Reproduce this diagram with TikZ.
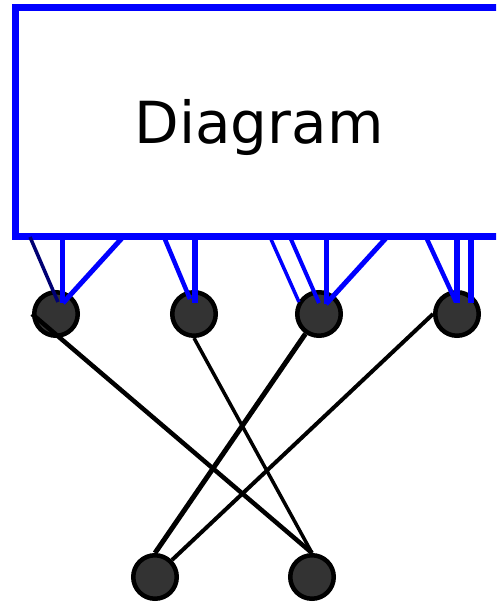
\documentclass[tikz,border=0pt]{standalone}
\usepackage{fontspec}
\setmainfont{DejaVu Sans}
\usetikzlibrary{calc}

\tikzset{
  diagbox/.style={draw=blue, line width=6.5pt, inner sep=0pt,
    font=\fontsize{58}{60}\selectfont, text height=42pt, text depth=0pt},
  dot/.style={circle, draw=black, fill=black!80, line width=4.5pt,
    minimum size=43.5pt, inner sep=0pt},
  bluewire/.style={draw=blue},
  blackwire/.style={draw=black}
}

\begin{document}
\begin{tikzpicture}[x=1pt, y=-1pt]
    \useasboundingbox (0,0) rectangle (496,603);
    \clip (0,0) rectangle (496,603);

    % 方框
    \node[diagbox, minimum width=487pt, minimum height=229pt] (diag) at (259,122) {Diagram};

    % 圆点
    \node[dot] (n1) at (56,314) {};
    \node[dot] (n2) at (194,314) {};
    \node[dot] (n3) at (319,314) {};
    \node[dot] (n4) at (457,314) {};
    \node[dot] (bl) at (155,577) {};
    \node[dot] (br) at (312,577) {};

    % 方框下边的端口
    \coordinate (p1) at (30,237);
    \coordinate (p2) at (62.5,237);
    \coordinate (p3) at (123,237);
    \coordinate (p4) at (164,237);
    \coordinate (p5) at (194.5,237);
    \coordinate (p6) at (270,237);
    \coordinate (p7) at (290,237);
    \coordinate (p8) at (326,237);
    \coordinate (p9) at (387,237);
    \coordinate (p10) at (426,237);
    \coordinate (p11) at (457,237);
    \coordinate (p12) at (471,237);

    % 黑线
    \draw[blackwire, line width=4.5pt] (n1.west) -- (br.north);
    \draw[blackwire, line width=3.5pt] (n2.south) -- (br.north);
    \draw[blackwire, line width=5pt] (n3) -- (bl.north);
    \draw[blackwire, line width=4pt] (n4.west) -- (bl.north east);

    % 蓝线
    \draw[bluewire, line width=3.5pt, draw=blue!45!black] (p1) -- ($(n1)+(2,-12)$);
    \draw[bluewire, line width=5.5pt] (p2) -- ($(n1)+(6.5,-11)$);
    \draw[bluewire, line width=5pt] (p3) -- ($(n1)+(7,-11)$);
    \draw[bluewire, line width=4.5pt] (p4) -- ($(n2)+(-4,-15)$);
    \draw[bluewire, line width=6pt] (p5) -- ($(n2)+(0.5,-11)$);
    \draw[bluewire, line width=3.5pt] (p6) -- ($(n3)+(-20,-12)$);
    \draw[bluewire, line width=4pt] (p7) -- ($(n3)+(0,-11)$);
    \draw[bluewire, line width=5pt] (p8) -- ($(n3)+(7,-10)$);
    \draw[bluewire, line width=5pt] (p9) -- ($(n3)+(7,-10)$);
    \draw[bluewire, line width=4.5pt] (p10) -- ($(n4)+(-1,-12)$);
    \draw[bluewire, line width=6pt] (p11) -- ($(n4)+(0,-11)$);
    \draw[bluewire, line width=5.5pt] (p12) -- ($(n4)+(14,-11)$);
\end{tikzpicture}
\end{document}
